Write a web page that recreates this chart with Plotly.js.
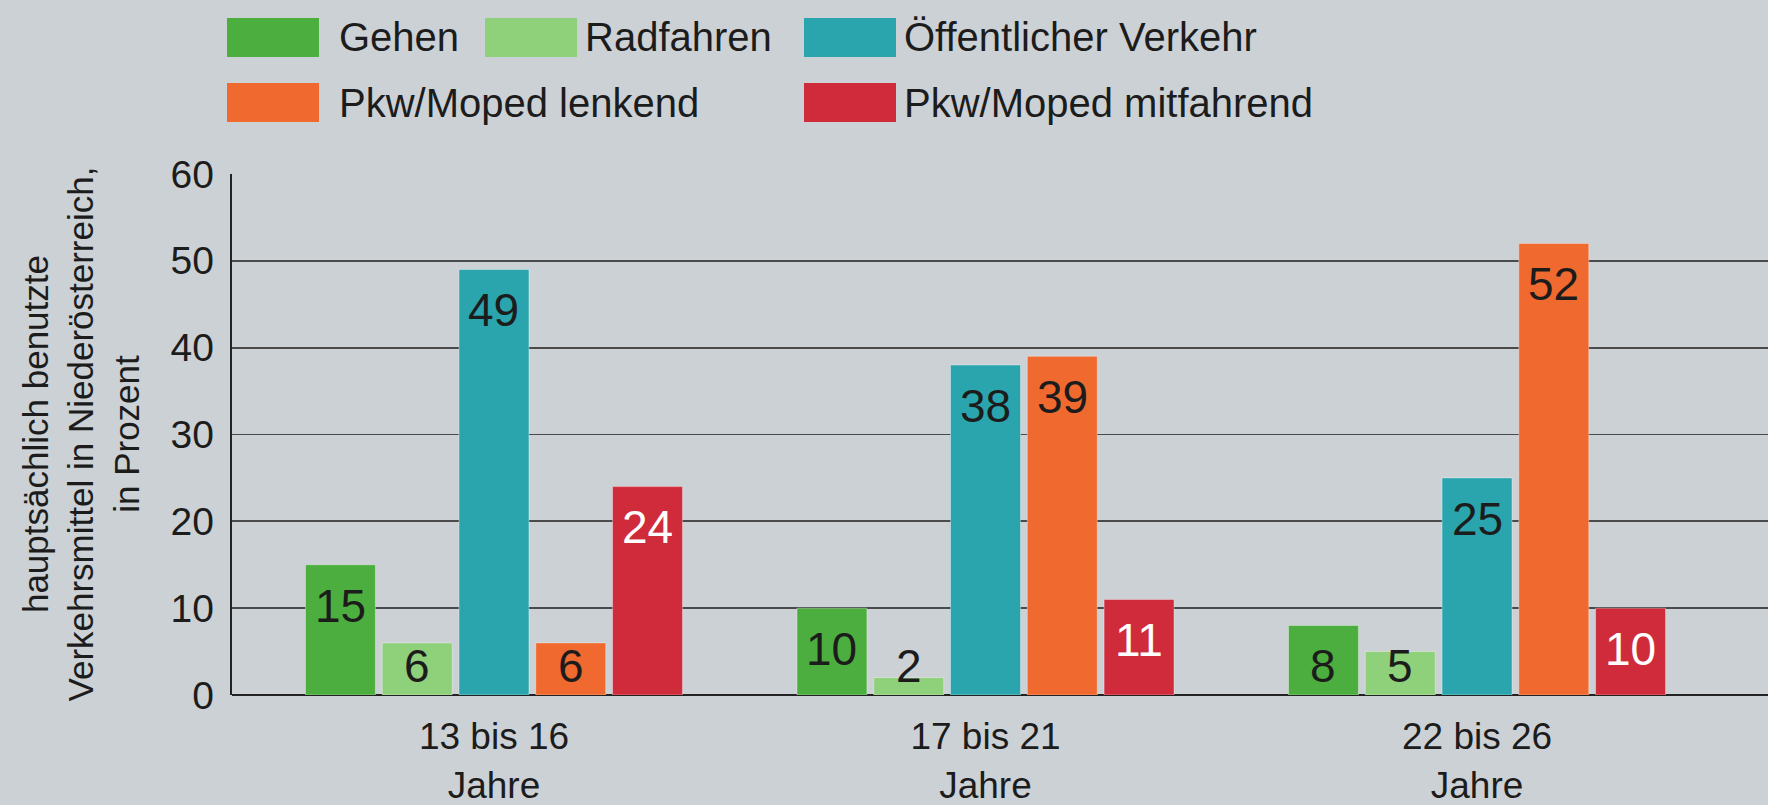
<!DOCTYPE html>
<html>
<head>
<meta charset="utf-8">
<script src="https://cdn.plot.ly/plotly-3.0.1.min.js"></script>
<style>
  html, body { margin: 0; padding: 0; background: #ccd1d5; }
  #chart { width: 1768px; height: 805px; }
</style>
</head>
<body>
<div id="chart"></div>
<script>
// ---- data ----
const categories = ["13 bis 16<br>Jahre", "17 bis 21<br>Jahre", "22 bis 26<br>Jahre"];
const seriesNames = ["Gehen", "Radfahren", "Öffentlicher Verkehr", "Pkw/Moped lenkend", "Pkw/Moped mitfahrend"];
const gehen = [15, 10, 8];
const radfahren = [6, 2, 5];
const oeffentlich = [49, 38, 25];
const pkwLenkend = [6, 39, 52];
const pkwMitfahrend = [24, 11, 10];
const yTicks = [0, 10, 20, 30, 40, 50, 60];

// ---- styles ----
const seriesValues = [gehen, radfahren, oeffentlich, pkwLenkend, pkwMitfahrend];
const colors = ["#4cae3e", "#8fd07a", "#2aa5ad", "#f0692f", "#d02b3a"];
const labelColors = ["#1c1c1c", "#1c1c1c", "#1c1c1c", "#1c1c1c", "#ffffff"];
const FONT = "'Liberation Sans', Arial, Helvetica, sans-serif";
const BARGAP = 0.219, GROUPGAP = 0.089;

const W = 1768, H = 805;
const L = 232, T = 174, B = 110, R = 0;
const plotW = W - L - R, plotH = H - T - B;
const px2x = p => (p - L) / plotW;
const px2y = p => (H - B - p) / plotH;

const traces = seriesNames.map((name, j) => ({
  type: "bar",
  name: name,
  x: categories,
  y: seriesValues[j],
  marker: { color: colors[j], line: { color: "rgba(255,255,255,0.35)", width: 1 } },
  hoverinfo: "x+y+name",
  showlegend: false
}));

// data labels, placed at each bar's slot on the category axis
const slot = (1 - BARGAP) / seriesNames.length;
const annotations = [];
seriesValues.forEach((vals, j) => {
  vals.forEach((v, i) => {
    annotations.push({
      x: i + (j - (seriesNames.length - 1) / 2) * slot,
      y: Math.max(v - 4.7, 3.3),
      xref: "x", yref: "y",
      text: String(v),
      showarrow: false,
      xanchor: "center", yanchor: "middle",
      font: { family: FONT, size: 46, color: labelColors[j] }
    });
  });
});

// y axis title
annotations.push({
  xref: "paper", yref: "paper",
  x: px2x(80), y: 0.5,
  text: "hauptsächlich benutzte<br>Verkehrsmittel in Niederösterreich,<br>in Prozent",
  textangle: -90, showarrow: false,
  xanchor: "center", yanchor: "middle", align: "center",
  font: { family: FONT, size: 35, color: "#1c1c1c" }
});

// legend (drawn manually for large swatches)
const legendItems = [
  { j: 0, sx: 227, tx: 337, row: 0 },
  { j: 1, sx: 485, tx: 583, row: 0 },
  { j: 2, sx: 804, tx: 902, row: 0 },
  { j: 3, sx: 227, tx: 337, row: 1 },
  { j: 4, sx: 804, tx: 902, row: 1 }
];
const rowTop = [18, 83], swW = 92, swH = 39;
const shapes = [];
legendItems.forEach(it => {
  const y0 = rowTop[it.row], y1 = y0 + swH;
  shapes.push({
    type: "rect", xref: "paper", yref: "paper",
    x0: px2x(it.sx), x1: px2x(it.sx + swW), y0: px2y(y1), y1: px2y(y0),
    fillcolor: colors[it.j], line: { width: 0 }
  });
  annotations.push({
    xref: "paper", yref: "paper",
    x: px2x(it.tx), y: px2y((y0 + y1) / 2),
    text: seriesNames[it.j], showarrow: false,
    xanchor: "left", yanchor: "middle",
    font: { family: FONT, size: 40, color: "#1c1c1c" }
  });
});

const layout = {
  width: W, height: H,
  margin: { l: L, r: R, t: T, b: B, pad: 0 },
  paper_bgcolor: "#ccd1d5",
  plot_bgcolor: "#ccd1d5",
  barmode: "group",
  bargap: BARGAP,
  bargroupgap: GROUPGAP,
  showlegend: false,
  xaxis: {
    type: "category",
    range: [-0.533, 2.592],
    showgrid: false,
    zeroline: false,
    showline: false,
    ticks: "outside", ticklen: 9, tickcolor: "rgba(0,0,0,0)",
    tickfont: { family: FONT, size: 37, color: "#1c1c1c" },
    fixedrange: true
  },
  yaxis: {
    range: [0, 60],
    tickvals: yTicks,
    ticktext: yTicks.map(String),
    showgrid: true, gridcolor: "#4a4a4a", gridwidth: 1.8,
    zeroline: true, zerolinecolor: "#222222", zerolinewidth: 2.2,
    showline: true, linecolor: "#222222", linewidth: 2.2,
    ticks: "outside", ticklen: 8, tickcolor: "rgba(0,0,0,0)",
    tickfont: { family: FONT, size: 39, color: "#1c1c1c" },
    fixedrange: true
  },
  annotations: annotations,
  shapes: shapes
};

Plotly.newPlot("chart", traces, layout, { displayModeBar: false, staticPlot: true });
</script>
</body>
</html>
